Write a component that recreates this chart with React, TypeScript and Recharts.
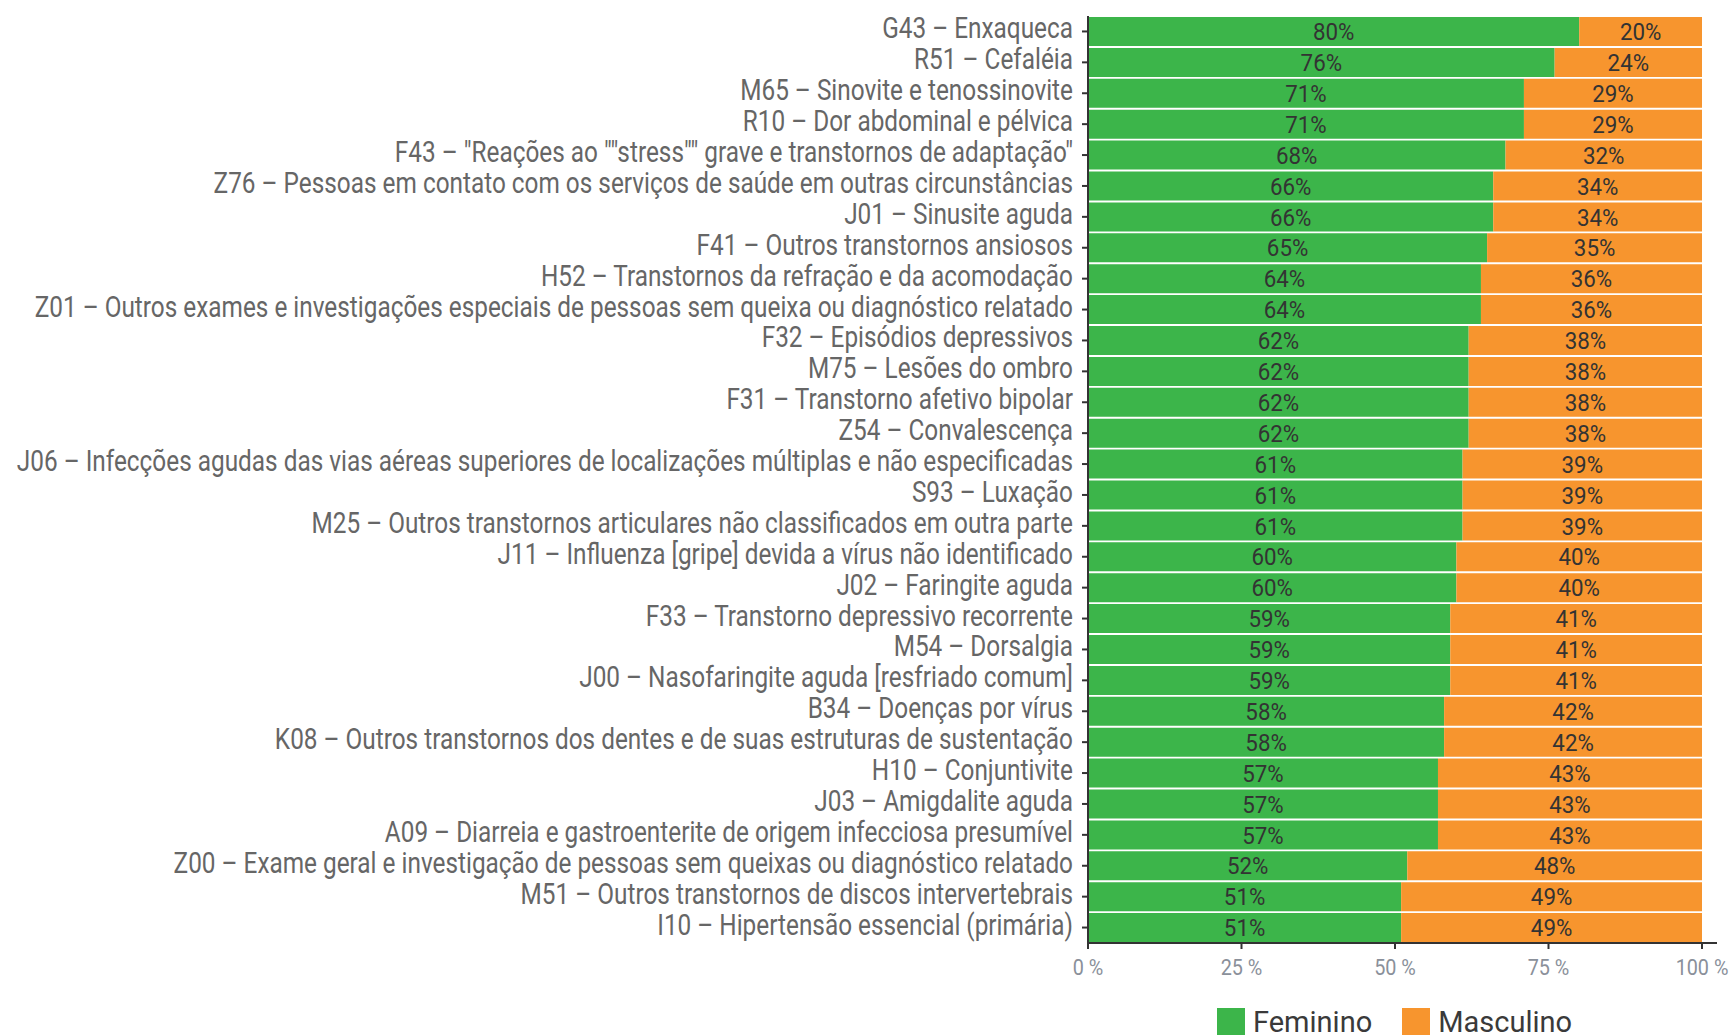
import { BarChart, Bar, XAxis, YAxis, Legend, LabelList } from 'recharts';

const categories = [
  'G43 – Enxaqueca',
  'R51 – Cefaléia',
  'M65 – Sinovite e tenossinovite',
  'R10 – Dor abdominal e pélvica',
  'F43 – "Reações ao ""stress"" grave e transtornos de adaptação"',
  'Z76 – Pessoas em contato com os serviços de saúde em outras circunstâncias',
  'J01 – Sinusite aguda',
  'F41 – Outros transtornos ansiosos',
  'H52 – Transtornos da refração e da acomodação',
  'Z01 – Outros exames e investigações especiais de pessoas sem queixa ou diagnóstico relatado',
  'F32 – Episódios depressivos',
  'M75 – Lesões do ombro',
  'F31 – Transtorno afetivo bipolar',
  'Z54 – Convalescença',
  'J06 – Infecções agudas das vias aéreas superiores de localizações múltiplas e não especificadas',
  'S93 – Luxação',
  'M25 – Outros transtornos articulares não classificados em outra parte',
  'J11 – Influenza [gripe] devida a vírus não identificado',
  'J02 – Faringite aguda',
  'F33 – Transtorno depressivo recorrente',
  'M54 – Dorsalgia',
  'J00 – Nasofaringite aguda [resfriado comum]',
  'B34 – Doenças por vírus',
  'K08 – Outros transtornos dos dentes e de suas estruturas de sustentação',
  'H10 – Conjuntivite',
  'J03 – Amigdalite aguda',
  'A09 – Diarreia e gastroenterite de origem infecciosa presumível',
  'Z00 – Exame geral e investigação de pessoas sem queixas ou diagnóstico relatado',
  'M51 – Outros transtornos de discos intervertebrais',
  'I10 – Hipertensão essencial (primária)',
];

const feminino = [80, 76, 71, 71, 68, 66, 66, 65, 64, 64, 62, 62, 62, 62, 61, 61, 61, 60, 60, 59, 59, 59, 58, 58, 57, 57, 57, 52, 51, 51];
const masculino = [20, 24, 29, 29, 32, 34, 34, 35, 36, 36, 38, 38, 38, 38, 39, 39, 39, 40, 40, 41, 41, 41, 42, 42, 43, 43, 43, 48, 49, 49];

const xTicks = [0, 25, 50, 75, 100];

const GREEN = '#3cb54a';
const ORANGE = '#f7952e';
const FONT = 'Roboto, sans-serif';

const chartData = categories.map((name, i) => ({
  name,
  Feminino: feminino[i],
  Masculino: masculino[i],
}));

// the original uses a condensed face; squeeze Roboto horizontally instead
const CategoryTick = ({ x, y, payload }: any) => (
  <g transform={`translate(${x},${y})`}>
    <text transform="scale(0.84,1)" textAnchor="end" dy={7} fontSize={29} fontFamily={FONT} fill="#666">
      {payload.value}
    </text>
  </g>
);

const PercentTick = ({ x, y, payload }: any) => (
  <g transform={`translate(${x},${y})`}>
    <text transform="scale(0.9,1)" textAnchor="middle" dy="0.9em" fontSize={22} fontFamily={FONT} fill="#8a909a">
      {`${payload.value} %`}
    </text>
  </g>
);

const BarLabel = ({ x, y, width, height, value }: any) => {
  const cx = x + width / 2;
  const cy = y + height / 2;
  return (
    <g transform={`translate(${cx},${cy})`}>
      <text transform="scale(0.93,1)" textAnchor="middle" dy="0.36em" fontSize={24} fontFamily={FONT} fill="#333">
        {`${value}%`}
      </text>
    </g>
  );
};

// legend sits under the plot, starting near the 25% tick like the original
const renderLegend = (props: any) => {
  const { payload } = props;
  return (
    <div
      style={{
        display: 'flex',
        alignItems: 'flex-end',
        height: 42,
        paddingLeft: 1217,
        fontFamily: FONT,
        fontSize: 29,
        color: '#3a3a3a',
        transform: 'translateY(2px)',
      }}
    >
      {(payload || []).map((entry: any) => (
        <div key={entry.value} style={{ display: 'flex', alignItems: 'center', marginRight: 30, height: 30 }}>
          <span style={{ display: 'inline-block', width: 28, height: 28, background: entry.color, marginRight: 8 }} />
          <span style={{ lineHeight: '30px' }}>{entry.value}</span>
        </div>
      ))}
    </div>
  );
};

export default function App() {
  return (
    <div style={{ position: 'absolute', left: 0, top: 0, background: '#fff' }}>
      <BarChart
        width={1735}
        height={1035}
        data={chartData}
        layout="vertical"
        barCategoryGap={1}
        margin={{ top: 16, right: 18, left: 0, bottom: 0 }}
      >
        <XAxis
          type="number"
          domain={[0, 100]}
          ticks={xTicks}
          height={50}
          padding={{ left: 0, right: 15 }}
          tickSize={6}
          tickMargin={6}
          axisLine={{ stroke: '#333', strokeWidth: 2 }}
          tickLine={{ stroke: '#333', strokeWidth: 2 }}
          tick={<PercentTick />}
        />
        <YAxis
          type="category"
          dataKey="name"
          width={1088}
          interval={0}
          tickSize={6}
          tickMargin={9}
          axisLine={{ stroke: '#333', strokeWidth: 2 }}
          tickLine={{ stroke: '#333', strokeWidth: 2 }}
          tick={<CategoryTick />}
        />
        <Legend verticalAlign="bottom" align="left" content={renderLegend} wrapperStyle={{ left: 0, width: 1735, height: 42 }} />
        <Bar dataKey="Feminino" stackId="a" fill={GREEN} isAnimationActive={false}>
          <LabelList dataKey="Feminino" content={<BarLabel />} />
        </Bar>
        <Bar dataKey="Masculino" stackId="a" fill={ORANGE} isAnimationActive={false}>
          <LabelList dataKey="Masculino" content={<BarLabel />} />
        </Bar>
      </BarChart>
    </div>
  );
}
